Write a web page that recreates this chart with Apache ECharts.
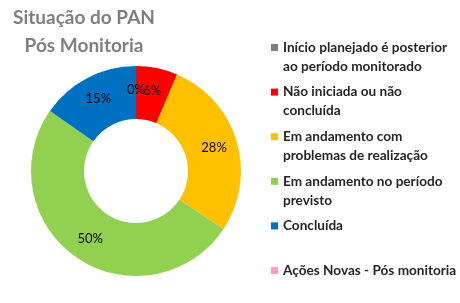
<!DOCTYPE html>
<html><head><meta charset="utf-8">
<script src="https://cdn.jsdelivr.net/npm/echarts@6/dist/echarts.min.js"></script>
<style>html,body{margin:0;padding:0;background:#fff}#c{width:460px;height:303px}</style>
</head><body><div id="c"></div>
<script>
const categories = [
  'Início planejado é posterior ao período monitorado',
  'Não iniciada ou não concluída',
  'Em andamento com problemas de realização',
  'Em andamento no período previsto',
  'Concluída',
  'Ações Novas - Pós monitoria'
];
const legendLines = [
  ['Início planejado é posterior', 'ao período monitorado'],
  ['Não iniciada ou não', 'concluída'],
  ['Em andamento com', 'problemas de realização'],
  ['Em andamento no período', 'previsto'],
  ['Concluída', ' '],
  ['Ações Novas - Pós monitoria', ' ']
];
const values = [0, 6.4, 27.9, 50.4, 15.3, '-'];
const colors = ['#7f7f7f', '#ff0000', '#ffc000', '#92d050', '#0070c0', '#ff99cc'];
const titleText = 'Situação do PAN\nPós Monitoria';

const total = values.filter(v => typeof v === 'number').reduce((a, b) => a + b, 0);
const chart = echarts.init(document.getElementById('c'));
chart.setOption({
  animation: false,
  color: colors,
  title: {
    text: titleText,
    left: 79, top: -1, textAlign: 'center',
    textStyle: { fontFamily: 'Lato', fontWeight: 'bold', fontSize: 19, color: '#7f7f7f', lineHeight: 28 }
  },
  legend: {
    orient: 'vertical', left: 266, top: 14, height: 500,
    icon: 'rect', itemWidth: 7, itemHeight: 7, itemGap: -12.4,
    data: categories,
    formatter: name => ' \n' + legendLines[categories.indexOf(name)].join('\n'),
    textStyle: { fontFamily: 'Lato', fontWeight: 'bold', fontSize: 13.6, color: '#262626', lineHeight: 19 }
  },
  series: [{
    type: 'pie',
    center: [136, 171],
    radius: [52, 105],
    startAngle: 90,
    clockwise: true,
    avoidLabelOverlap: false,
    label: {
      show: true, position: 'inside',
      fontFamily: 'Lato', fontSize: 13, color: '#000',
      formatter: p => Math.round(p.value / total * 100) + '%'
    },
    labelLine: { show: false },
    emphasis: { disabled: true },
    data: categories.map((n, i) => ({ name: n, value: values[i] }))
  }]
});
// ECharts hides labels of zero-angle sectors; the reference still shows "0%" for the zero item.
const pieData = chart.getModel().getSeriesByIndex(0).getData();
values.forEach((v, i) => {
  if (v === 0) {
    const el = pieData.getItemGraphicEl(i);
    const t = el && el.getTextContent();
    if (t) { t.ignore = false; }
  }
});
chart.getZr().refreshImmediately();
</script></body></html>
